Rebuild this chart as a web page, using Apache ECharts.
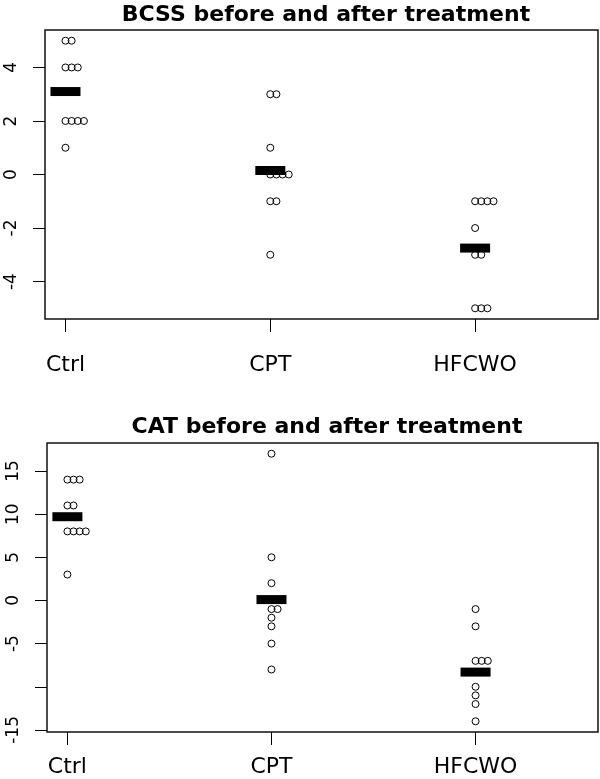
<!DOCTYPE html>
<html><head><meta charset="utf-8">
<script src="https://cdn.jsdelivr.net/npm/echarts@6/dist/echarts.min.js"></script>
<style>html,body{margin:0;padding:0;background:#fff}#c{width:600px;height:779px}</style>
</head><body><div id="c"></div>
<script>
const groups = ['Ctrl', 'CPT', 'HFCWO'];
const bcssCtrl = [5, 5, 4, 4, 4, 2, 2, 2, 2, 1];
const bcssCPT = [3, 3, 1, 0, 0, 0, 0, -1, -1, -3];
const bcssHFCWO = [-1, -1, -1, -1, -2, -3, -3, -5, -5, -5];
const bcssMeans = [3.1, 0.15, -2.75];
const catCtrl = [14, 14, 14, 11, 11, 8, 8, 8, 8, 3];
const catCPT = [17, 5, 2, -1, -1, -2, -3, -5, -8];
const catHFCWO = [-1, -3, -7, -7, -7, -10, -11, -12, -14];
const catMeans = [9.7, 0.1, -8.3];
const bcssTicks = [-4, -2, 0, 2, 4];
const bcssLabels = [-4, -2, 0, 2, 4];
const catTicks = [-15, -10, -5, 0, 5, 10, 15];
const catLabels = [-15, -5, 0, 5, 10, 15];
const bcssTitle = 'BCSS before and after treatment';
const catTitle = 'CAT before and after treatment';

const STEP = 0.03; // horizontal stacking of equal values (stripchart method="stack")
function stackPoints(groupsData) {
  const out = [];
  groupsData.forEach((vals, gi) => {
    const seen = {};
    vals.forEach(v => {
      const k = seen[v] || 0;
      seen[v] = k + 1;
      out.push([gi + 1 + k * STEP, v]);
    });
  });
  return out;
}

const FONT = 'DejaVu Sans';
function xAxisFor(gridIndex, margin) {
  return {
    type: 'value', gridIndex, min: 0.9, max: 3.6, position: 'bottom',
    axisLine: { show: false, onZero: false },
    splitLine: { show: false },
    axisTick: { show: true, length: 13, customValues: [1, 2, 3], lineStyle: { color: '#000', width: 1 } },
    axisLabel: { show: true, customValues: [1, 2, 3], margin, color: '#000', fontFamily: FONT, fontSize: 22,
      formatter: v => groups[Math.round(v) - 1] }
  };
}
function yAxisFor(gridIndex, min, max, ticks, labels) {
  return {
    type: 'value', gridIndex, min, max, position: 'left',
    axisLine: { show: false, onZero: false },
    splitLine: { show: false },
    axisTick: { show: true, length: 12, customValues: ticks, lineStyle: { color: '#000', width: 1 } },
    axisLabel: { show: true, customValues: labels, rotate: 90, margin: 25, color: '#000', fontFamily: FONT, fontSize: 17 }
  };
}
const pointStyle = { color: 'rgba(0,0,0,0)', borderColor: '#000', borderWidth: 1, opacity: 1 };
const barStyle = { color: '#000', opacity: 1 };

const chart = echarts.init(document.getElementById('c'), null, { renderer: 'canvas' });
chart.setOption({
  backgroundColor: '#fff',
  animation: false,
  title: [
    { text: bcssTitle, left: 321, top: -1, textAlign: 'center', textStyle: { fontFamily: FONT, fontWeight: 'bold', fontSize: 22, color: '#000' } },
    { text: catTitle, left: 322, top: 411, textAlign: 'center', textStyle: { fontFamily: FONT, fontWeight: 'bold', fontSize: 22, color: '#000' } }
  ],
  grid: [
    { left: 45, right: 2, top: 30, height: 289, show: true, borderColor: '#111', borderWidth: 1.5, backgroundColor: 'transparent' },
    { left: 47, right: 2, top: 443, height: 289, show: true, borderColor: '#111', borderWidth: 1.5, backgroundColor: 'transparent' }
  ],
  xAxis: [xAxisFor(0, 35), xAxisFor(1, 24)],
  yAxis: [
    yAxisFor(0, -5.4, 5.4, bcssTicks, bcssLabels),
    yAxisFor(1, -15.24, 18.24, catTicks, catLabels)
  ],
  series: [
    { type: 'scatter', xAxisIndex: 0, yAxisIndex: 0, symbol: 'circle', symbolSize: 7, itemStyle: pointStyle,
      data: stackPoints([bcssCtrl, bcssCPT, bcssHFCWO]), z: 2 },
    { type: 'scatter', xAxisIndex: 0, yAxisIndex: 0, symbol: 'rect', symbolSize: [30, 9], itemStyle: barStyle,
      data: bcssMeans.map((m, i) => [i + 1, m]), z: 3 },
    { type: 'scatter', xAxisIndex: 1, yAxisIndex: 1, symbol: 'circle', symbolSize: 7, itemStyle: pointStyle,
      data: stackPoints([catCtrl, catCPT, catHFCWO]), z: 2 },
    { type: 'scatter', xAxisIndex: 1, yAxisIndex: 1, symbol: 'rect', symbolSize: [30, 9], itemStyle: barStyle,
      data: catMeans.map((m, i) => [i + 1, m]), z: 3 }
  ]
});
</script>
</body></html>
